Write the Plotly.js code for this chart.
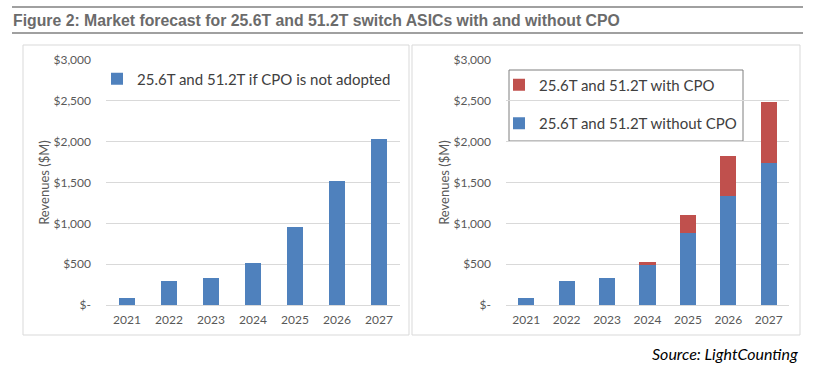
<!DOCTYPE html>
<html>
<head>
<meta charset="utf-8">
<script src="https://cdn.plot.ly/plotly-3.0.1.min.js"></script>
<style>
html,body{margin:0;padding:0;background:#fff;}
#chart{width:817px;height:372px;}
</style>
</head>
<body>
<div id="chart"></div>
<script>
// ---- data ----
const years = ['2021', '2022', '2023', '2024', '2025', '2026', '2027'];
const noCpoAdopted = [90, 298, 335, 518, 955, 1522, 2037];
const withoutCpo = [90, 298, 335, 486, 886, 1339, 1739];
const withCpo = [0, 0, 0, 45, 220, 485, 751];
const yTickVals = [0, 500, 1000, 1500, 2000, 2500, 3000];
const yTickText = ['$-', '$500', '$1,000', '$1,500', '$2,000', '$2,500', '$3,000'];
const nameLeft = '25.6T and 51.2T if CPO is not adopted';
const nameWith = '25.6T and 51.2T with CPO';
const nameWithout = '25.6T and 51.2T without CPO';
const titleText = 'Figure 2: Market forecast for 25.6T and 51.2T switch ASICs with and without CPO';
const sourceText = 'Source: LightCounting';
const yTitle = 'Revenues ($M)';

const W = 817, H = 372;
const px = v => v / W;
const py = v => 1 - v / H;

const blue = '#4f81bd', red = '#c0504d';
const FONT = 'Lato, "Open Sans", sans-serif';
const tickFont = {family: FONT, size: 12, color: '#595959'};

const traces = [
  {type: 'bar', x: years, y: noCpoAdopted, name: nameLeft, marker: {color: blue},
   xaxis: 'x', yaxis: 'y', legend: 'legend', showlegend: true, hoverinfo: 'x+y'},
  {type: 'bar', x: years, y: withoutCpo, name: nameWithout, marker: {color: blue},
   xaxis: 'x2', yaxis: 'y2', legend: 'legend2', legendgroup: 'g1', legendrank: 2, showlegend: true, hoverinfo: 'x+y'},
  {type: 'bar', x: years, y: withCpo, name: nameWith, marker: {color: red},
   xaxis: 'x2', yaxis: 'y2', legend: 'legend2', legendgroup: 'g2', legendrank: 1, showlegend: true, hoverinfo: 'x+y'}
];

const yDomain = [py(305), py(60)];

function xAxis(d0, d1, anchor) {
  return {domain: [px(d0), px(d1)], anchor: anchor, type: 'category',
    showgrid: false, zeroline: false, showline: false, ticks: '',
    tickfont: tickFont, ticklabelstandoff: 6, fixedrange: true};
}
function yAxis(anchor) {
  return {domain: yDomain, anchor: anchor, range: [0, 3000],
    tickvals: yTickVals, ticktext: yTickText, tickfont: tickFont,
    showgrid: true, gridcolor: '#d9d9d9', gridwidth: 1,
    zeroline: true, zerolinecolor: '#d9d9d9', zerolinewidth: 1,
    showline: false, ticks: '', ticklabelstandoff: 14, fixedrange: true,
    title: {text: yTitle, font: {family: FONT, size: 13, color: '#595959'}, standoff: 0}};
}

const layout = {
  width: W, height: H,
  margin: {l: 0, r: 0, t: 0, b: 0},
  paper_bgcolor: '#fff', plot_bgcolor: 'rgba(0,0,0,0)',
  barmode: 'stack', bargap: 0.6, showlegend: true,
  font: {family: FONT, color: '#404040'},
  title: {text: '<b>' + titleText + '</b>', x: px(13), xanchor: 'left', y: py(20), yanchor: 'middle',
    font: {family: '"Liberation Sans", Arial, sans-serif', size: 15.8, color: '#6b6b6b'}},
  xaxis: xAxis(106, 400, 'y'),
  yaxis: yAxis('x'),
  xaxis2: xAxis(506, 789, 'y2'),
  yaxis2: yAxis('x2'),
  legend: {x: px(97), xanchor: 'left', y: py(79), yanchor: 'middle',
    bgcolor: 'rgba(0,0,0,0)', borderwidth: 0,
    font: {family: FONT, size: 15, color: '#404040'}},
  legend2: {x: px(499), xanchor: 'left', y: py(104), yanchor: 'middle',
    bgcolor: 'rgba(0,0,0,0)', borderwidth: 0, traceorder: 'grouped', tracegroupgap: 16,
    font: {family: FONT, size: 15, color: '#404040'}},
  shapes: [
    {type: 'line', xref: 'paper', yref: 'paper', x0: px(12), x1: px(803), y0: py(7), y1: py(7),
     line: {color: '#808080', width: 1.5}},
    {type: 'line', xref: 'paper', yref: 'paper', x0: px(12), x1: px(803), y0: py(33), y1: py(33),
     line: {color: '#808080', width: 1.5}},
    {type: 'rect', xref: 'paper', yref: 'paper', x0: px(23), x1: px(409), y0: py(45), y1: py(335),
     line: {color: '#d9d9d9', width: 1}},
    {type: 'rect', xref: 'paper', yref: 'paper', x0: px(412), x1: px(800), y0: py(45), y1: py(335),
     line: {color: '#d9d9d9', width: 1}},
    {type: 'rect', xref: 'paper', yref: 'paper', x0: px(509), x1: px(743), y0: py(70), y1: py(141),
     line: {color: '#7f7f7f', width: 1}, fillcolor: '#ffffff', layer: 'below'}
  ],
  annotations: [
    {xref: 'paper', yref: 'paper', x: px(800), y: py(353), xanchor: 'right', yanchor: 'middle',
     text: '<i>' + sourceText + '</i>', showarrow: false,
     font: {family: FONT, size: 16, color: '#000'}}
  ]
};

Plotly.newPlot('chart', traces, layout, {displayModeBar: false, staticPlot: true});
</script>
</body>
</html>
